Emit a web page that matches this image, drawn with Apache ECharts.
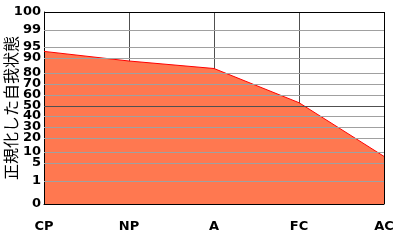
<!DOCTYPE html>
<html>
<head>
<meta charset="utf-8">
<script src="https://cdn.jsdelivr.net/npm/echarts@6/dist/echarts.min.js"></script>
<style>html,body{margin:0;padding:0;background:#fff;}#c{width:400px;height:240px;}</style>
</head>
<body>
<div id="c"></div>
<script>
const categories = ['CP', 'NP', 'A', 'FC', 'AC'];
const egoValues = [93, 88, 83, 53, 8];
const yTickLabels = [0, 1, 5, 10, 20, 30, 40, 50, 60, 70, 80, 90, 95, 99, 100];
// normalized (non-linear) scale: axis units of each tick label
const yTickScale = [0, 23, 41, 52, 66, 77, 88, 98, 109, 120, 131, 146, 157, 174, 192];
const yAxisName = '正規化した自我状態';

function toScale(p) {
  for (let i = 1; i < yTickLabels.length; i++) {
    if (p <= yTickLabels[i]) {
      const a = yTickLabels[i - 1], b = yTickLabels[i];
      const t = (p - a) / (b - a);
      return yTickScale[i - 1] + t * (yTickScale[i] - yTickScale[i - 1]);
    }
  }
  return yTickScale[yTickScale.length - 1];
}
function labelFor(v) {
  const i = yTickScale.indexOf(v);
  return i >= 0 ? String(yTickLabels[i]) : '';
}

const gridLines = yTickScale.slice(1).map((v, k) => {
  const lbl = yTickLabels[k + 1];
  let color = '#a0a0a0';
  if (lbl === 50) color = '#505050';
  if (lbl === 100) color = '#000000';
  return { yAxis: v, lineStyle: { color: color, width: 1, type: 'solid' } };
});
gridLines.push({ xAxis: categories[categories.length - 1], lineStyle: { color: '#000', width: 1, type: 'solid' } });

const chart = echarts.init(document.getElementById('c'), null, { renderer: 'canvas' });
chart.setOption({
  animation: false,
  grid: { left: 44, right: 16, top: 12, height: 192, containLabel: false, outerBoundsMode: 'none' },
  xAxis: {
    type: 'category',
    data: categories,
    boundaryGap: false,
    z: 3,
    axisLine: { show: true, lineStyle: { color: '#000', width: 1 } },
    axisTick: { show: false },
    axisLabel: { color: '#000', fontSize: 13, fontWeight: 'bold', fontFamily: 'DejaVu Sans', margin: 16 },
    splitLine: {
      show: true,
      interval: function (i) { return i !== 0 && i !== categories.length - 1; },
      lineStyle: { color: '#505050', width: 1 }
    }
  },
  yAxis: {
    type: 'value',
    min: 0,
    max: 192,
    interval: 1,
    z: 3,
    name: yAxisName,
    nameLocation: 'middle',
    nameRotate: 90,
    nameGap: 25,
    nameMoveOverlap: false,
    nameTextStyle: { color: '#000', fontSize: 16, fontFamily: 'Noto Sans CJK JP' },
    axisLine: { show: true, lineStyle: { color: '#000', width: 1 } },
    axisTick: { show: false },
    splitLine: { show: false },
    axisLabel: {
      customValues: yTickScale,
      formatter: labelFor,
      color: '#000', fontSize: 13, fontWeight: 'bold', fontFamily: 'DejaVu Sans', margin: 3
    }
  },
  series: [{
    type: 'line',
    data: egoValues.map(toScale),
    symbol: 'none',
    lineStyle: { color: '#ff0000', width: 1 },
    areaStyle: { color: '#ff7850', opacity: 1 },
    markLine: {
      silent: true,
      symbol: ['none', 'none'],
      label: { show: false },
      animation: false,
      data: gridLines
    }
  }]
});
</script>
</body>
</html>
